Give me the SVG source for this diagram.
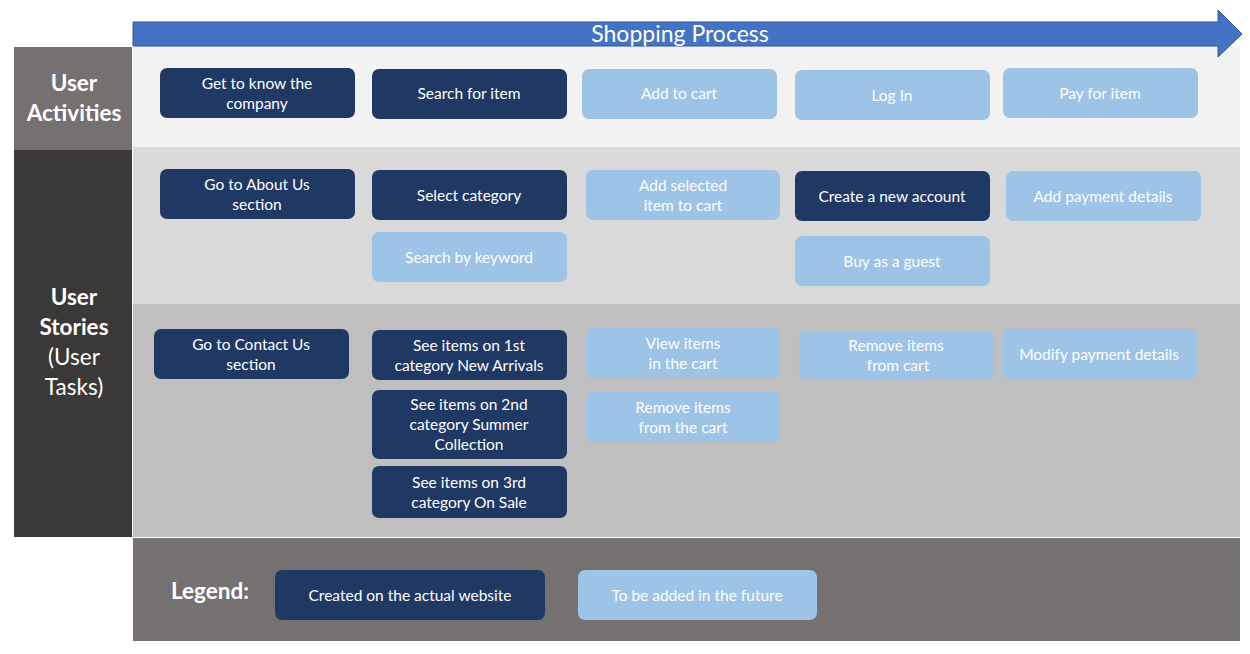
<svg xmlns="http://www.w3.org/2000/svg" width="1250" height="654" viewBox="0 0 1250 654">
<style>
  text { font-family: Lato, "Open Sans", "Liberation Sans", sans-serif; fill: #ffffff; text-anchor: middle; }
  .t { font-size: 15.5px; }
  .h { font-size: 22.5px; font-weight: bold; }
  .hr { font-size: 22.5px; }
  .dark { fill: #203864; }
  .light { fill: #9dc3e6; }
</style>
<rect width="1250" height="654" fill="#ffffff"/>
<g id="bands">
  <rect x="133" y="46" width="1107" height="101" fill="#f2f2f2"/>
  <rect x="133" y="147" width="1107" height="157" fill="#d9d9d9"/>
  <rect x="133" y="304" width="1107" height="233" fill="#bfbfbf"/>
  <rect x="133" y="538" width="1107" height="103" fill="#767171"/>
  <rect x="14" y="47" width="118" height="103" fill="#767171"/>
  <rect x="14" y="150" width="118" height="387" fill="#3b3838"/>
</g>
<g id="process-arrow">
  <polygon points="133,22 1218,22 1218,10 1242,34 1218,57 1218,46 133,46" fill="#4472c4" stroke="#2f5597" stroke-width="1"/>
  <text x="680" y="42" style="font-size:23px">Shopping Process</text>
</g>
<g id="row-labels">
  <text class="h" x="74" y="91">User</text>
  <text class="h" x="74" y="121">Activities</text>
  <text class="h" x="74" y="305">User</text>
  <text class="h" x="74" y="335">Stories</text>
  <text class="hr" x="74" y="365">(User</text>
  <text class="hr" x="74" y="395">Tasks)</text>
</g>
<g id="connectors"></g>
<g id="n-know"><rect class="dark" x="160" y="68" width="195" height="50" rx="7"/><text class="t" x="257" y="89">Get to know the</text><text class="t" x="257" y="109">company</text></g>
<g id="n-search"><rect class="dark" x="372" y="69" width="195" height="50" rx="7"/><text class="t" x="469" y="99">Search for item</text></g>
<g id="n-addcart"><rect class="light" x="582" y="69" width="195" height="50" rx="7"/><text class="t" x="679" y="99">Add to cart</text></g>
<g id="n-login"><rect class="light" x="795" y="70" width="195" height="50" rx="7"/><text class="t" x="892" y="101">Log In</text></g>
<g id="n-pay"><rect class="light" x="1003" y="68" width="195" height="50" rx="7"/><text class="t" x="1100" y="99">Pay for item</text></g>

<g id="n-about"><rect class="dark" x="160" y="169" width="195" height="50" rx="7"/><text class="t" x="257" y="190">Go to About Us</text><text class="t" x="257" y="210">section</text></g>
<g id="n-category"><rect class="dark" x="372" y="170" width="195" height="50" rx="7"/><text class="t" x="469" y="201">Select category</text></g>
<g id="n-keyword"><rect class="light" x="372" y="232" width="195" height="50" rx="7"/><text class="t" x="469" y="263">Search by keyword</text></g>
<g id="n-addsel"><rect class="light" x="586" y="170" width="194" height="50" rx="7"/><text class="t" x="683" y="191">Add selected</text><text class="t" x="683" y="211">item to cart</text></g>
<g id="n-account"><rect class="dark" x="795" y="171" width="195" height="50" rx="7"/><text class="t" x="892" y="202">Create a new account</text></g>
<g id="n-guest"><rect class="light" x="795" y="236" width="195" height="50" rx="7"/><text class="t" x="892" y="267">Buy as a guest</text></g>
<g id="n-paydetails"><rect class="light" x="1006" y="171" width="195" height="50" rx="7"/><text class="t" x="1103" y="202">Add payment details</text></g>

<g id="n-contact"><rect class="dark" x="154" y="329" width="195" height="50" rx="7"/><text class="t" x="251" y="350">Go to Contact Us</text><text class="t" x="251" y="370">section</text></g>
<g id="n-cat1"><rect class="dark" x="372" y="330" width="195" height="50" rx="7"/><text class="t" x="469" y="351">See items on 1st</text><text class="t" x="469" y="371">category New Arrivals</text></g>
<g id="n-cat2"><rect class="dark" x="372" y="390" width="195" height="69" rx="7"/><text class="t" x="469" y="410">See items on 2nd</text><text class="t" x="469" y="430">category Summer</text><text class="t" x="469" y="450">Collection</text></g>
<g id="n-cat3"><rect class="dark" x="372" y="466" width="195" height="52" rx="7"/><text class="t" x="469" y="488">See items on 3rd</text><text class="t" x="469" y="508">category On Sale</text></g>
<g id="n-view"><rect class="light" x="586" y="328" width="194" height="50" rx="7"/><text class="t" x="683" y="349">View items</text><text class="t" x="683" y="369">in the cart</text></g>
<g id="n-remove1"><rect class="light" x="586" y="392" width="194" height="50" rx="7"/><text class="t" x="683" y="413">Remove items</text><text class="t" x="683" y="433">from the cart</text></g>
<g id="n-remove2"><rect class="light" x="799" y="331" width="195" height="49" rx="7"/><text class="t" x="896" y="351">Remove items</text><text class="t" x="898" y="371">from cart</text></g>
<g id="n-modify"><rect class="light" x="1002" y="329" width="195" height="50" rx="7"/><text class="t" x="1099" y="360">Modify payment details</text></g>

<g id="legend">
  <text x="210" y="599" style="font-size:22.5px;font-weight:bold">Legend:</text>
  <rect class="dark" x="275" y="570" width="270" height="50" rx="7"/><text class="t" x="410" y="601">Created on the actual website</text>
  <rect class="light" x="578" y="570" width="239" height="50" rx="7"/><text class="t" x="697" y="601">To be added in the future</text>
</g>
</svg>
